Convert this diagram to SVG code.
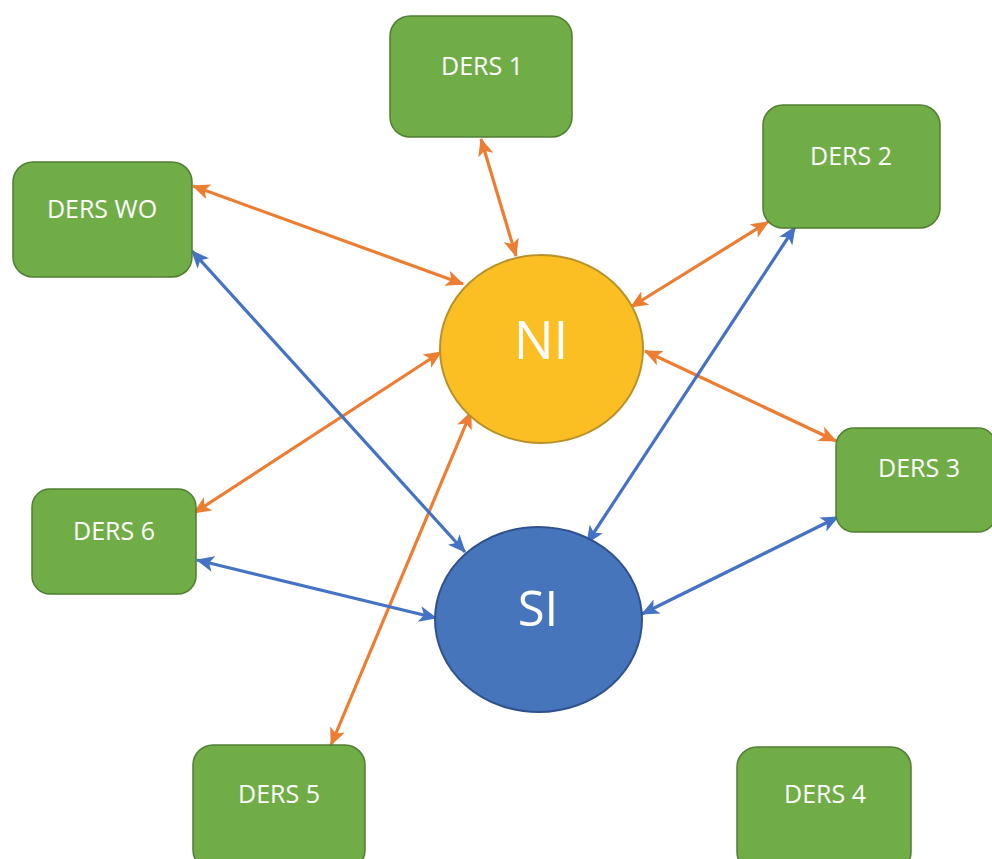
<svg xmlns="http://www.w3.org/2000/svg" width="992" height="859" viewBox="0 0 992 859">
<defs>
<marker id="ao" viewBox="0 0 16 14" refX="15" refY="7" markerWidth="18" markerHeight="16" markerUnits="userSpaceOnUse" orient="auto-start-reverse">
<path d="M0,0 L16,7 L0,14 L4,7 Z" fill="#ED7D31"/>
</marker>
<marker id="ab" viewBox="0 0 16 14" refX="15" refY="7" markerWidth="18" markerHeight="16" markerUnits="userSpaceOnUse" orient="auto-start-reverse">
<path d="M0,0 L16,7 L0,14 L4,7 Z" fill="#4472C4"/>
</marker>
<style>
.box{fill:#70AD47;stroke:#507E32;stroke-width:1.5}
.lbl{font-family:"Open Sans","Liberation Sans",sans-serif;font-size:25px;fill:#FFFFFF;text-anchor:middle}
.big{font-family:"Open Sans","Liberation Sans",sans-serif;fill:#FFFFFF;text-anchor:middle}
.o{stroke:#ED7D31;stroke-width:3.2;fill:none;marker-start:url(#ao);marker-end:url(#ao)}
.b{stroke:#4472C4;stroke-width:3.2;fill:none;marker-start:url(#ab);marker-end:url(#ab)}
</style>
</defs>
<rect width="992" height="859" fill="#FFFFFF"/>
<g id="connectors">
<line class="o" x1="481" y1="139" x2="516" y2="256"/>
<line class="o" x1="193" y1="186" x2="463" y2="284"/>
<line class="o" x1="768" y1="222" x2="631" y2="307"/>
<line class="o" x1="645" y1="351" x2="836" y2="441"/>
<line class="o" x1="441" y1="352" x2="194" y2="513"/>
<line class="o" x1="471" y1="412" x2="331" y2="745"/>
<line class="b" x1="192" y1="251" x2="465" y2="552"/>
<line class="b" x1="795" y1="227" x2="587" y2="543"/>
<line class="b" x1="197" y1="560" x2="436" y2="618"/>
<line class="b" x1="838" y1="517" x2="642" y2="614"/>
</g>
<g id="ni">
<ellipse cx="541.5" cy="349" rx="101.5" ry="94" fill="#FBBF24" stroke="#B8912A" stroke-width="2"/>
<text class="big" x="541" y="359" font-size="53">NI</text>
</g>
<g id="si">
<ellipse cx="538.5" cy="619.5" rx="103.5" ry="92.5" fill="#4675BB" stroke="#2F528F" stroke-width="2"/>
<text class="big" x="538" y="626" font-size="49">SI</text>
</g>
<g id="ders1">
<rect class="box" x="390" y="16" width="182" height="121" rx="20"/>
<text class="lbl" x="482" y="75">DERS 1</text>
</g>
<g id="derswo">
<rect class="box" x="13" y="162" width="179" height="115" rx="20"/>
<text class="lbl" x="102" y="218">DERS WO</text>
</g>
<g id="ders2">
<rect class="box" x="763" y="105" width="177" height="123" rx="20"/>
<text class="lbl" x="851" y="165">DERS 2</text>
</g>
<g id="ders3">
<rect class="box" x="836" y="428" width="160" height="104" rx="18"/>
<text class="lbl" x="919" y="477">DERS 3</text>
</g>
<g id="ders6">
<rect class="box" x="32" y="489" width="164" height="105" rx="18"/>
<text class="lbl" x="114" y="540">DERS 6</text>
</g>
<g id="ders5">
<rect class="box" x="193" y="745" width="172" height="125" rx="20"/>
<text class="lbl" x="279" y="803">DERS 5</text>
</g>
<g id="ders4">
<rect class="box" x="737" y="747" width="174" height="125" rx="20"/>
<text class="lbl" x="825" y="803">DERS 4</text>
</g>
</svg>
